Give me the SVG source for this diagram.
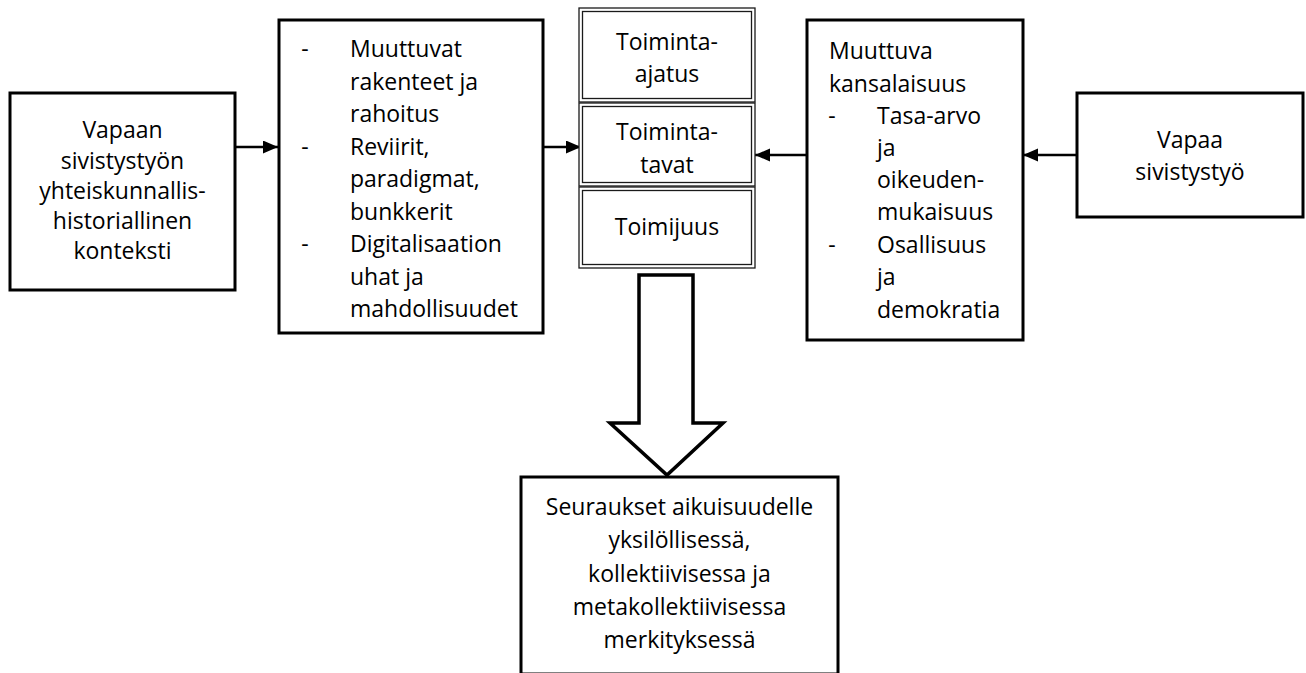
<svg xmlns="http://www.w3.org/2000/svg" width="1306" height="673" viewBox="0 0 1306 673">
<style>
  .box { fill: #ffffff; stroke: #000000; stroke-width: 3; }
  .dbl { fill: none; stroke: #1a1a1a; stroke-width: 1.3; }
  .t { font-family: "Open Sans", "Noto Sans", "Liberation Sans", sans-serif; font-size: 23px; fill: #000000; }
  .c { text-anchor: middle; }
  .conn { stroke: #000000; stroke-width: 2.5; fill: none; }
</style>
<defs>
  <marker id="ah" markerUnits="userSpaceOnUse" markerWidth="16" markerHeight="14" refX="15" refY="6.5" orient="auto">
    <path d="M0,0 L15,6.5 L0,13 z" fill="#000000"/>
  </marker>
</defs>
<rect width="1306" height="673" fill="#ffffff"/>

<g id="connectors">
  <line class="conn" x1="236" y1="147" x2="278" y2="147" marker-end="url(#ah)"/>
  <line class="conn" x1="544" y1="147" x2="581" y2="147" marker-end="url(#ah)"/>
  <line class="conn" x1="806" y1="155" x2="755" y2="155" marker-end="url(#ah)"/>
  <line class="conn" x1="1076" y1="155" x2="1023" y2="155" marker-end="url(#ah)"/>
  <polygon points="639,275 693,275 693,423 723,423 667,475 610,423 639,423" fill="#ffffff" stroke="#000000" stroke-width="3.5" stroke-linejoin="miter"/>
</g>

<g id="node-context">
  <rect class="box" x="10" y="93" width="225" height="197"/>
  <text class="t c" x="122.5" y="138">Vapaan</text>
  <text class="t c" x="122.5" y="168.5">sivistystyön</text>
  <text class="t c" x="122.5" y="199">yhteiskunnallis-</text>
  <text class="t c" x="122.5" y="229">historiallinen</text>
  <text class="t c" x="122.5" y="259">konteksti</text>
</g>

<g id="node-changes">
  <rect class="box" x="279" y="20" width="264" height="313"/>
  <text class="t c" x="305" y="57">-</text>
  <text class="t" x="350" y="57">Muuttuvat</text>
  <text class="t" x="350" y="89.5">rakenteet ja</text>
  <text class="t" x="350" y="122">rahoitus</text>
  <text class="t c" x="305" y="154.5">-</text>
  <text class="t" x="350" y="154.5">Reviirit,</text>
  <text class="t" x="350" y="187">paradigmat,</text>
  <text class="t" x="350" y="219.5">bunkkerit</text>
  <text class="t c" x="305" y="252">-</text>
  <text class="t" x="350" y="252">Digitalisaation</text>
  <text class="t" x="350" y="284.5">uhat ja</text>
  <text class="t" x="350" y="317">mahdollisuudet</text>
</g>

<g id="node-toiminta-ajatus">
  <rect x="579" y="8" width="176" height="94" fill="#ffffff"/>
  <rect class="dbl" x="579" y="8" width="176" height="94"/>
  <rect class="dbl" x="582.5" y="11.5" width="169" height="87"/>
  <text class="t c" x="667" y="50">Toiminta-</text>
  <text class="t c" x="667" y="82">ajatus</text>
</g>

<g id="node-toiminta-tavat">
  <rect x="579" y="103" width="176" height="83" fill="#ffffff"/>
  <rect class="dbl" x="579" y="103" width="176" height="83"/>
  <rect class="dbl" x="582.5" y="106.5" width="169" height="76"/>
  <text class="t c" x="667" y="140">Toiminta-</text>
  <text class="t c" x="667" y="173">tavat</text>
</g>

<g id="node-toimijuus">
  <rect x="579" y="187" width="176" height="81" fill="#ffffff"/>
  <rect class="dbl" x="579" y="187" width="176" height="81"/>
  <rect class="dbl" x="582.5" y="190.5" width="169" height="74"/>
  <text class="t c" x="667" y="235">Toimijuus</text>
</g>

<g id="node-citizenship">
  <rect class="box" x="807" y="20" width="216" height="320"/>
  <text class="t" x="829" y="59">Muuttuva</text>
  <text class="t" x="829" y="91.5">kansalaisuus</text>
  <text class="t c" x="832" y="124">-</text>
  <text class="t" x="877" y="124">Tasa-arvo</text>
  <text class="t" x="877" y="156">ja</text>
  <text class="t" x="877" y="188">oikeuden-</text>
  <text class="t" x="877" y="220">mukaisuus</text>
  <text class="t c" x="832" y="253">-</text>
  <text class="t" x="877" y="253">Osallisuus</text>
  <text class="t" x="877" y="285">ja</text>
  <text class="t" x="877" y="318">demokratia</text>
</g>

<g id="node-vapaa">
  <rect class="box" x="1077" y="93" width="226" height="124"/>
  <text class="t c" x="1190" y="147.5">Vapaa</text>
  <text class="t c" x="1190" y="180">sivistystyö</text>
</g>

<g id="node-consequences">
  <rect class="box" x="521" y="477" width="317" height="197"/>
  <text class="t c" x="679.5" y="515">Seuraukset aikuisuudelle</text>
  <text class="t c" x="679.5" y="548">yksilöllisessä,</text>
  <text class="t c" x="679.5" y="581.5">kollektiivisessa ja</text>
  <text class="t c" x="679.5" y="615">metakollektiivisessa</text>
  <text class="t c" x="679.5" y="648">merkityksessä</text>
</g>
</svg>
